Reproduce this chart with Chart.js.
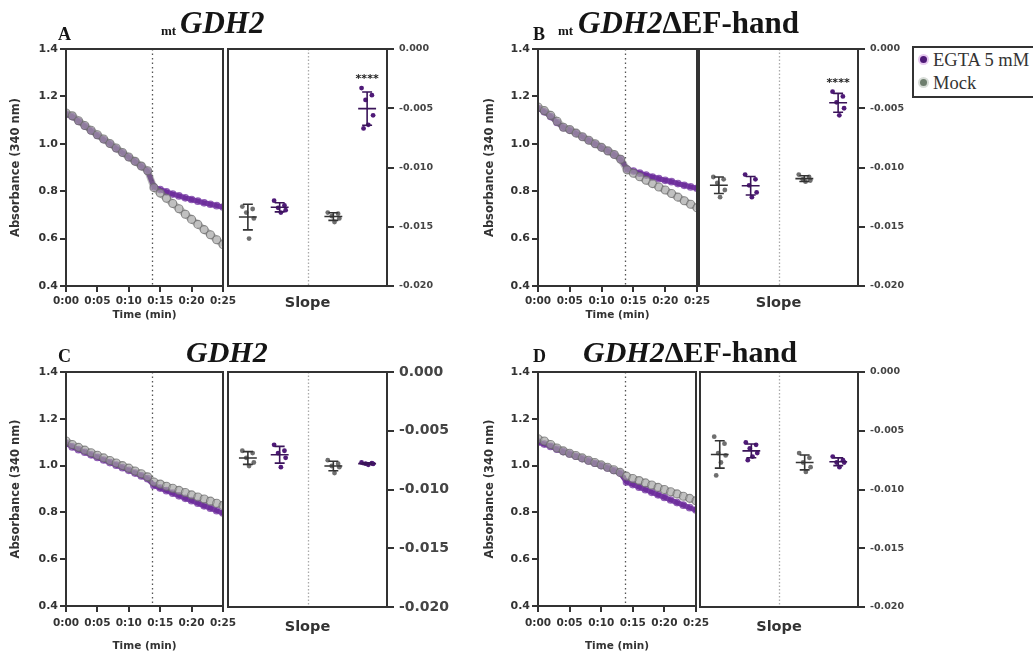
<!DOCTYPE html>
<html>
<head>
<meta charset="utf-8">
<script src="https://cdn.jsdelivr.net/npm/chart.js@4.4.1/dist/chart.umd.min.js"></script>
<style>
  body { margin: 0; width: 1033px; height: 652px; position: relative; overflow: hidden; background: #fff; }
  canvas { position: absolute; }
  .t { position: absolute; font-family: "Liberation Serif", "Times New Roman", serif; font-weight: bold; color: #151515; white-space: nowrap; line-height: 1; }
  .it { font-style: italic; }
  #legend { position: absolute; left: 912px; top: 46px; width: 140px; height: 48px; border: 2px solid #333; background: #fff;
            font-family: "Liberation Serif", "Times New Roman", serif; font-size: 18.5px; color: #333; }
  #legend div { height: 21px; line-height: 21px; padding-left: 6px; margin-top: 2px; }
  #legend span { display: inline-block; width: 7px; height: 7px; border-radius: 50%; margin-right: 6px; vertical-align: 3px; }
</style>
</head>
<body>
<canvas id="timeA" width="245" height="310" style="left:0;top:20px"></canvas>
<canvas id="slopeA" width="240" height="310" style="left:222px;top:20px"></canvas>
<canvas id="timeB" width="245" height="310" style="left:474px;top:20px"></canvas>
<canvas id="slopeB" width="240" height="310" style="left:693px;top:20px"></canvas>
<canvas id="timeC" width="245" height="310" style="left:0;top:343px"></canvas>
<canvas id="slopeC" width="240" height="310" style="left:222px;top:343px"></canvas>
<canvas id="timeD" width="245" height="310" style="left:474px;top:343px"></canvas>
<canvas id="slopeD" width="240" height="310" style="left:694px;top:343px"></canvas>

<div class="t" style="left:58px;top:25px;font-size:18px">A</div>
<div class="t" style="left:161px;top:24px;font-size:13px">mt</div>
<div class="t it" style="left:180px;top:7px;font-size:31px">GDH2</div>

<div class="t" style="left:533px;top:25px;font-size:18px">B</div>
<div class="t" style="left:558px;top:24px;font-size:13px">mt</div>
<div class="t" style="left:578px;top:7px;font-size:31px"><span class="it">GDH2</span>ΔEF-hand</div>

<div class="t" style="left:58px;top:347px;font-size:18px">C</div>
<div class="t it" style="left:186px;top:337px;font-size:30px">GDH2</div>

<div class="t" style="left:533px;top:347px;font-size:18px">D</div>
<div class="t" style="left:583px;top:337px;font-size:30px"><span class="it">GDH2</span>ΔEF-hand</div>

<div id="legend"></div>

<script>
// ---- data ----
const seriesNames = ['EGTA 5 mM', 'Mock'];
const times = [0, 1, 2, 3, 4, 5, 6, 7, 8, 9, 10, 11, 12, 13, 14, 15, 16, 17, 18, 19, 20, 21, 22, 23, 24, 25];
const timeTickLabels = ['0:00', '0:05', '0:10', '0:15', '0:20', '0:25'];
const absTickLabels = ['0.4', '0.6', '0.8', '1.0', '1.2', '1.4'];
const slopeTickLabels = ['-0.020', '-0.015', '-0.010', '-0.005', '0.000'];
const slopeGroups = ['Mock 0-13 min', 'EGTA 0-13 min', 'Mock 14-25 min', 'EGTA 14-25 min'];

// absorbance (340 nm), one value per minute
const absA_egta = [1.125, 1.115, 1.095, 1.075, 1.055, 1.035, 1.018, 1.0, 0.98, 0.962, 0.943, 0.925, 0.905, 0.885, 0.818, 0.807, 0.797, 0.788, 0.78, 0.772, 0.765, 0.758, 0.751, 0.745, 0.739, 0.733];
const absA_mock = [1.13, 1.118, 1.097, 1.077, 1.057, 1.038, 1.02, 1.001, 0.982, 0.963, 0.944, 0.926, 0.906, 0.886, 0.815, 0.792, 0.77, 0.748, 0.726, 0.703, 0.681, 0.66, 0.638, 0.616, 0.595, 0.575];
const absB_egta = [1.15, 1.135, 1.115, 1.09, 1.068, 1.058, 1.044, 1.029, 1.014, 0.999, 0.984, 0.969, 0.954, 0.935, 0.893, 0.885, 0.876, 0.868, 0.86, 0.853, 0.846, 0.84, 0.832, 0.825, 0.818, 0.812];
const absB_mock = [1.155, 1.14, 1.12, 1.095, 1.07, 1.06, 1.045, 1.03, 1.015, 1.0, 0.985, 0.97, 0.955, 0.935, 0.89, 0.876, 0.861, 0.846, 0.832, 0.818, 0.805, 0.79, 0.775, 0.76, 0.745, 0.73];
const absC_egta = [1.095, 1.08, 1.068, 1.057, 1.046, 1.035, 1.024, 1.013, 1.002, 0.991, 0.98, 0.968, 0.956, 0.944, 0.915, 0.904, 0.893, 0.882, 0.871, 0.86, 0.85, 0.839, 0.828, 0.818, 0.807, 0.797];
const absC_mock = [1.105, 1.09, 1.078, 1.066, 1.055, 1.044, 1.033, 1.022, 1.011, 1.0, 0.989, 0.977, 0.965, 0.952, 0.93, 0.921, 0.912, 0.903, 0.894, 0.885, 0.875, 0.866, 0.857, 0.848, 0.839, 0.83];
const absD_egta = [1.1, 1.092, 1.082, 1.07, 1.06, 1.05, 1.04, 1.03, 1.02, 1.01, 1.0, 0.99, 0.979, 0.968, 0.93, 0.919, 0.908, 0.897, 0.886, 0.875, 0.864, 0.853, 0.842, 0.831, 0.82, 0.81];
const absD_mock = [1.115, 1.105, 1.09, 1.075, 1.063, 1.053, 1.043, 1.033, 1.023, 1.013, 1.003, 0.993, 0.982, 0.971, 0.955, 0.945, 0.936, 0.926, 0.917, 0.907, 0.898, 0.888, 0.879, 0.869, 0.86, 0.85];

// slopes, one list per group (Mock pre, EGTA pre, Mock post, EGTA post)
const slopeA = [
  [-0.0133, -0.0135, -0.0138, -0.0143, -0.0160],
  [-0.0128, -0.0132, -0.0134, -0.0136, -0.0138],
  [-0.0138, -0.0139, -0.0141, -0.0143, -0.0146],
  [-0.0033, -0.0039, -0.0043, -0.0056, -0.0064, -0.0067]
];
const slopeB = [
  [-0.0108, -0.0110, -0.0113, -0.0119, -0.0125],
  [-0.0106, -0.0110, -0.0115, -0.0121, -0.0125],
  [-0.0106, -0.0108, -0.0110, -0.0111, -0.0112],
  [-0.0036, -0.0040, -0.0045, -0.0050, -0.0056]
];
const slopeC = [
  [-0.0067, -0.0069, -0.0073, -0.0077, -0.0080],
  [-0.0062, -0.0067, -0.0069, -0.0073, -0.0081],
  [-0.0075, -0.0078, -0.0080, -0.0081, -0.0086],
  [-0.0077, -0.00775, -0.0078, -0.00782, -0.0079]
];
const slopeD = [
  [-0.0055, -0.0061, -0.0069, -0.0071, -0.0077, -0.0088],
  [-0.0060, -0.0062, -0.0065, -0.0069, -0.0072, -0.0075],
  [-0.0069, -0.0073, -0.0077, -0.0081, -0.0085],
  [-0.0072, -0.0075, -0.0077, -0.0077, -0.0081]
];
const starsA = ['', '', '', '****'];
const starsB = ['', '', '', '****'];

// ---- look ----
const PURPLE = '#4f1a78';
const GREY = '#6f6f6f';
const groupX = [1, 2.6, 5.3, 7];          // x slot of each slope group (0..8)
const jitter = [-0.28, 0.24, -0.08, 0.3, 0.06, -0.18];
const groupColor = [GREY, PURPLE, GREY, PURPLE];
const axisFont = 'DejaVu Sans';

const legend = document.getElementById('legend');
[PURPLE, '#6e7e6e'].forEach((c, i) => {
  legend.innerHTML += '<div><span style="background:' + c + ';box-shadow:0 0 0 2px ' + (i ? '#d8ddd8' : '#e7c9f0') + '"></span>' + seriesNames[i] + '</div>';
});

const frame = {
  id: 'frame',
  afterDraw(chart) {
    const { ctx, chartArea: a } = chart;
    ctx.save();
    ctx.strokeStyle = '#333';
    ctx.lineWidth = 2;
    ctx.strokeRect(a.left, a.top, a.right - a.left, a.bottom - a.top);
    ctx.restore();
  }
};

const vmark = {
  id: 'vmark',
  beforeDatasetsDraw(chart, args, o) {
    const { ctx, chartArea: a } = chart;
    const x = Math.round(chart.scales.x.getPixelForValue(o.value)) + 0.5;
    ctx.save();
    ctx.strokeStyle = o.color;
    ctx.lineWidth = 1.3;
    ctx.setLineDash(o.dash);
    ctx.beginPath();
    ctx.moveTo(x, a.top);
    ctx.lineTo(x, a.bottom);
    ctx.stroke();
    ctx.restore();
  }
};

const meanSd = {
  id: 'meanSd',
  afterDatasetsDraw(chart, args, o) {
    const { ctx } = chart;
    const xs = chart.scales.x, ys = chart.scales.y;
    chart.data.datasets.forEach((ds, i) => {
      const v = ds.data.map(p => p.y);
      const m = v.reduce((s, a) => s + a, 0) / v.length;
      const sd = Math.sqrt(v.reduce((s, a) => s + (a - m) * (a - m), 0) / (v.length - 1));
      const cx = xs.getPixelForValue(groupX[i]);
      const half = xs.getPixelForValue(groupX[i] + 0.45) - cx;
      const cap = xs.getPixelForValue(groupX[i] + 0.25) - cx;
      const yt = ys.getPixelForValue(m + sd), yb = ys.getPixelForValue(m - sd), ym = ys.getPixelForValue(m);
      ctx.save();
      ctx.strokeStyle = i % 2 ? '#3a1459' : '#333';
      ctx.lineWidth = 1.6;
      ctx.beginPath();
      ctx.moveTo(cx - half, ym); ctx.lineTo(cx + half, ym);
      ctx.moveTo(cx, yt); ctx.lineTo(cx, yb);
      ctx.moveTo(cx - cap, yt); ctx.lineTo(cx + cap, yt);
      ctx.moveTo(cx - cap, yb); ctx.lineTo(cx + cap, yb);
      ctx.stroke();
      if (o.stars && o.stars[i]) {
        ctx.fillStyle = '#222';
        ctx.font = 'bold 11px ' + axisFont;
        ctx.textAlign = 'center';
        ctx.fillText(o.stars[i], cx, ys.getPixelForValue(Math.max(...v)) - 6);
      }
      ctx.restore();
    });
  }
};

function timeChart(id, egta, mock, leftAxisW, padRight, xAxisH, padBottom, tickPad) {
  const mk = (label, vals, line, lw, r, edge, fill) => ({
    label: label,
    data: times.map((t, i) => ({ x: t, y: vals[i] })),
    showLine: true,
    borderColor: line,
    borderWidth: lw,
    pointRadius: r,
    pointBorderWidth: 1.1,
    pointBorderColor: edge,
    pointBackgroundColor: fill
  });
  new Chart(document.getElementById(id), {
    type: 'scatter',
    data: {
      // first dataset is drawn on top
      datasets: [
        mk(seriesNames[1], mock, 'rgba(120,120,120,0.5)', 7, 4, 'rgba(105,105,105,0.75)', 'rgba(200,200,200,0.35)'),
        mk(seriesNames[0], egta, 'rgba(90,20,140,0.85)', 5, 3.3, 'rgba(120,60,165,0.75)', 'rgba(105,40,155,0.5)')
      ]
    },
    options: {
      responsive: false,
      animation: false,
      events: [],
      layout: { padding: { top: 29, right: padRight, bottom: padBottom, left: 0 } },
      plugins: { legend: { display: false }, tooltip: { enabled: false }, vmark: { value: 13.7, color: '#555', dash: [1.5, 3] } },
      scales: {
        x: {
          type: 'linear', min: 0, max: 25,
          ticks: { stepSize: 5, autoSkip: false, maxRotation: 0, padding: tickPad, color: '#333',
                   font: { family: axisFont, weight: 'bold', size: 10.5 },
                   callback: v => timeTickLabels[Math.round(v / 5)] },
          grid: { drawOnChartArea: false, tickLength: 6, lineWidth: 2, color: '#333' },
          border: { width: 2, color: '#333' },
          title: { display: true, text: 'Time (min)', color: '#333', padding: 0, font: { family: axisFont, weight: 'bold', size: 10.5 } },
          afterFit(s) { s.height = xAxisH; }
        },
        y: {
          min: 0.4, max: 1.4,
          ticks: { stepSize: 0.2, padding: 2, color: '#333', font: { family: axisFont, weight: 'bold', size: 11 },
                   callback: v => absTickLabels[Math.round((v - 0.4) / 0.2)] },
          grid: { drawOnChartArea: false, tickLength: 6, lineWidth: 2, color: '#333' },
          border: { width: 2, color: '#333' },
          title: { display: true, text: 'Absorbance (340 nm)', color: '#333', padding: { top: 9, bottom: 0 }, font: { family: axisFont, weight: 'bold', size: 11.5 } },
          afterFit(s) { s.width = leftAxisW; }
        }
      }
    },
    plugins: [vmark, frame]
  });
}

function slopeChart(id, groups, stars, padLeft, axisW, slopeH, padBottom, labelSize) {
  new Chart(document.getElementById(id), {
    type: 'scatter',
    data: {
      datasets: groups.map((vals, g) => ({
        label: slopeGroups[g],
        data: vals.map((v, i) => ({ x: groupX[g] + jitter[i], y: v })),
        pointRadius: 2.4,
        pointBorderWidth: 0,
        pointBackgroundColor: groupColor[g]
      }))
    },
    options: {
      responsive: false,
      animation: false,
      events: [],
      layout: { padding: { top: 29, right: 0, bottom: padBottom, left: padLeft } },
      plugins: { legend: { display: false }, tooltip: { enabled: false },
                 vmark: { value: 4, color: '#aaa', dash: [1.5, 2] }, meanSd: { stars: stars } },
      scales: {
        x: {
          type: 'linear', min: 0, max: 8,
          ticks: { display: false },
          grid: { display: false },
          border: { display: false },
          title: { display: true, text: 'Slope', color: '#333', padding: 0, font: { family: axisFont, weight: 'bold', size: 14.5 } },
          afterFit(s) { s.height = slopeH; }
        },
        y: {
          position: 'right', min: -0.02, max: 0,
          ticks: { stepSize: 0.005, padding: 5, color: '#444', font: { family: axisFont, weight: 'bold', size: labelSize },
                   callback: v => slopeTickLabels[Math.round((v + 0.02) / 0.005)] },
          grid: { drawOnChartArea: false, tickLength: 7, lineWidth: 2, color: '#333' },
          border: { width: 2, color: '#333' },
          afterFit(s) { s.width = axisW; }
        }
      }
    },
    plugins: [vmark, meanSd, frame]
  });
}

// chart area bottom = 310 - padBottom - x axis height
timeChart('timeA', absA_egta, absA_mock, 66, 22, 36, 8, 3);
slopeChart('slopeA', slopeA, starsA, 6, 75, 26, 18, 9.5);
timeChart('timeB', absB_egta, absB_mock, 64, 22, 36, 8, 3);
slopeChart('slopeB', slopeB, starsB, 6, 75, 26, 18, 9.5);
timeChart('timeC', absC_egta, absC_mock, 66, 22, 47, 0, 5);
slopeChart('slopeC', slopeC, ['', '', '', ''], 6, 75, 29, 17, 14);
timeChart('timeD', absD_egta, absD_mock, 64, 23, 47, 0, 5);
slopeChart('slopeD', slopeD, ['', '', '', ''], 6, 76, 29, 17, 9.5);
</script>
</body>
</html>
